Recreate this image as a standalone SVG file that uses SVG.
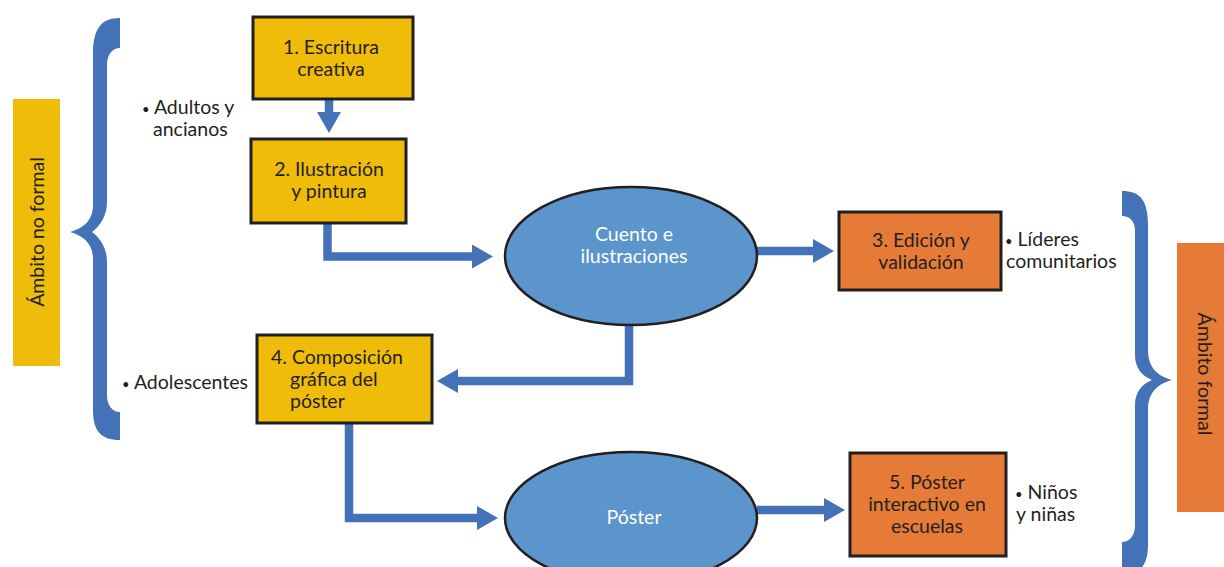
<svg xmlns="http://www.w3.org/2000/svg" width="1224" height="567" viewBox="0 0 1224 567">
<defs>
<style>
.box{stroke:#231F20;stroke-width:3}
.y{fill:#F0BC0A}
.o{fill:#E67B37}
.ell{fill:#5B95CB;stroke:#231F20;stroke-width:2.5}
.t{font-family:Lato,"Open Sans",sans-serif;font-size:19.5px;fill:#231F20}
.b{font-size:13px}
.c{text-anchor:middle}
.w{fill:#FFFFFF}
.con{fill:none;stroke:#4472B8;stroke-width:8.5;stroke-linejoin:miter}
.brace{fill:#4472B8}
</style>
<marker id="ah" markerUnits="userSpaceOnUse" viewBox="0 0 21 24" markerWidth="21" markerHeight="24" refX="0" refY="12" orient="auto">
<path d="M0,0 L21,12 L0,24 Z" fill="#4472B8"/>
</marker>
</defs>
<rect width="1224" height="567" fill="#FFFFFF"/>

<g id="label-noformal">
<rect x="13" y="99" width="47" height="267" class="y"/>
<text class="t c" transform="translate(44,232) rotate(-90)">Ámbito no formal</text>
</g>
<g id="label-formal">
<rect x="1177" y="243" width="47" height="269" class="o"/>
<text class="t c" transform="translate(1198,374) rotate(90)">Ámbito formal</text>
</g>

<g id="brace-left">
<path class="brace" d="M120,18 C100,18 93,30 93,55 L93,205 C93,220 84,228 70,232 C84,236 93,244 93,259 L93,410 C93,430 100,440 120,440 L120,412 C112,412 107,405 107,395 L107,262 C107,248 100,238 92,232 C100,226 107,216 107,202 L107,65 C107,55 112,48 120,48 Z"/>
</g>
<g id="brace-right">
<path class="brace" d="M1122,191 C1140,191 1148,200 1148,225 L1148,350 C1148,368 1158,376 1172,380 C1158,384 1148,392 1148,410 L1148,545 C1148,565 1140,575 1122,575 L1122,542 C1130,542 1135,535 1135,525 L1135,405 C1135,392 1142,384 1152,380 C1142,376 1135,368 1135,355 L1135,230 C1135,222 1130,216 1122,216 Z"/>
</g>

<g id="connectors">
<path class="con" d="M329,99 V112" marker-end="url(#ah)"/>
<path class="con" d="M327.5,223 V256.5 H472" marker-end="url(#ah)"/>
<path class="con" d="M757,251 H813" marker-end="url(#ah)"/>
<path class="con" d="M629,325 V381 H458" marker-end="url(#ah)"/>
<path class="con" d="M349,423 V518 H477" marker-end="url(#ah)"/>
<path class="con" d="M757,510 H824" marker-end="url(#ah)"/>
</g>

<g id="n1">
<rect x="253" y="17" width="160" height="82" class="box y"/>
<text class="t c" x="331" y="54">1. Escritura</text>
<text class="t c" x="331" y="76">creativa</text>
</g>
<g id="n2">
<rect x="251" y="139" width="155" height="84" class="box y"/>
<text class="t c" x="329" y="176">2. Ilustración</text>
<text class="t c" x="329" y="198">y pintura</text>
</g>
<g id="aud1">
<text class="t" x="142" y="114"><tspan class="b">•</tspan> Adultos y</text>
<text class="t" x="153" y="136">ancianos</text>
</g>
<g id="n-cuento">
<ellipse cx="631" cy="256" rx="126" ry="69" class="ell"/>
<text class="t c w" x="634" y="241">Cuento e</text>
<text class="t c w" x="634" y="263">ilustraciones</text>
</g>
<g id="n3">
<rect x="839" y="212" width="162" height="78" class="box o"/>
<text class="t c" x="921" y="247">3. Edición y</text>
<text class="t c" x="921" y="269">validación</text>
</g>
<g id="aud3">
<text class="t" x="1005" y="246"><tspan class="b">•</tspan> Líderes</text>
<text class="t" x="1006" y="268">comunitarios</text>
</g>
<g id="n4">
<rect x="257" y="335" width="175" height="88" class="box y"/>
<text class="t" x="271" y="364">4. Composición</text>
<text class="t" x="290" y="386">gráfica del</text>
<text class="t" x="290" y="408">póster</text>
</g>
<g id="aud4">
<text class="t" x="122" y="389"><tspan class="b">•</tspan> Adolescentes</text>
</g>
<g id="n-poster">
<ellipse cx="631" cy="518" rx="126" ry="66" class="ell"/>
<text class="t c w" x="634" y="524">Póster</text>
</g>
<g id="n5">
<rect x="850" y="453" width="156" height="103" class="box o"/>
<text class="t c" x="927" y="489">5. Póster</text>
<text class="t c" x="927" y="511">interactivo en</text>
<text class="t c" x="927" y="533">escuelas</text>
</g>
<g id="aud5">
<text class="t" x="1015" y="499"><tspan class="b">•</tspan> Niños</text>
<text class="t" x="1016" y="521">y niñas</text>
</g>
</svg>
